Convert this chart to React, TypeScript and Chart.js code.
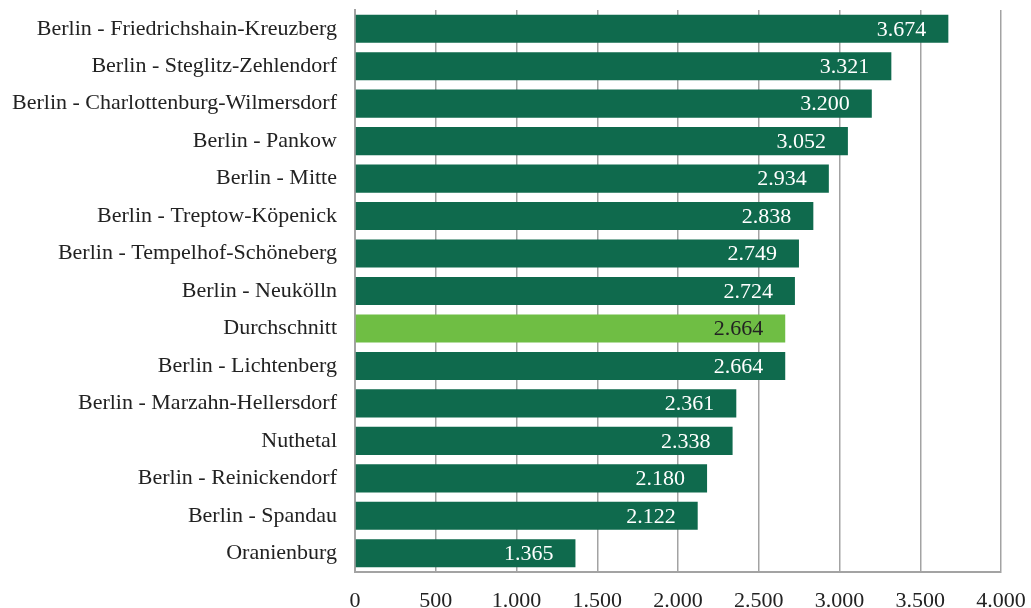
import React, { useEffect, useRef } from "react";
import { Chart, registerables } from "chart.js";

Chart.register(...registerables);

const categories = [
  "Berlin - Friedrichshain-Kreuzberg",
  "Berlin - Steglitz-Zehlendorf",
  "Berlin - Charlottenburg-Wilmersdorf",
  "Berlin - Pankow",
  "Berlin - Mitte",
  "Berlin - Treptow-Köpenick",
  "Berlin - Tempelhof-Schöneberg",
  "Berlin - Neukölln",
  "Durchschnitt",
  "Berlin - Lichtenberg",
  "Berlin - Marzahn-Hellersdorf",
  "Nuthetal",
  "Berlin - Reinickendorf",
  "Berlin - Spandau",
  "Oranienburg",
];

const values = [3674, 3321, 3200, 3052, 2934, 2838, 2749, 2724, 2664, 2664, 2361, 2338, 2180, 2122, 1365];

const highlightCategory = "Durchschnitt";

const xMin = 0;
const xMax = 4000;
const xStep = 500;

const DARK = "#0f6a4d";
const LIGHT = "#6fbe44";
const FONT = "'Liberation Serif', 'Times New Roman', serif";
const FONT_SIZE = 22;

function fmt(v: number): string {
  return String(Math.round(v)).replace(/\B(?=(\d{3})+(?!\d))/g, ".");
}

const labelPlugin = {
  id: "barLabels",
  afterDatasetsDraw(chart: any) {
    const ctx = chart.ctx;
    const meta = chart.getDatasetMeta(0);
    ctx.save();
    ctx.font = `${FONT_SIZE}px ${FONT}`;
    ctx.textAlign = "right";
    ctx.textBaseline = "middle";
    meta.data.forEach((el: any, i: number) => {
      const isHi = categories[i] === highlightCategory;
      ctx.fillStyle = isHi ? "#222222" : "#ffffff";
      ctx.fillText(fmt(values[i]), el.x - 22, el.y + 1);
    });
    ctx.restore();
  },
};

export default function App() {
  const ref = useRef<HTMLCanvasElement>(null);
  useEffect(() => {
    if (!ref.current) return;
    const chart = new Chart(ref.current, {
      type: "bar",
      data: {
        labels: categories,
        datasets: [
          {
            data: values,
            backgroundColor: categories.map((c) => (c === highlightCategory ? LIGHT : DARK)),
            barPercentage: 0.75,
            categoryPercentage: 1,
          },
        ],
      },
      options: {
        indexAxis: "y",
        animation: false,
        responsive: true,
        maintainAspectRatio: false,
        layout: { padding: { left: 0, right: 30, top: 10, bottom: 0 } },
        plugins: { legend: { display: false }, tooltip: { enabled: false } },
        scales: {
          x: {
            min: xMin,
            max: xMax,
            ticks: {
              stepSize: xStep,
              color: "#222222",
              font: { family: FONT, size: FONT_SIZE },
              padding: 16,
              maxRotation: 0,
              callback: (v: any) => fmt(Number(v)),
            },
            grid: { color: "#a3a3a3", lineWidth: 1.5, drawTicks: false },
            border: { display: true, color: "#a3a3a3", width: 2 },
            afterFit: (s: any) => {
              s.height = 36;
              s.paddingLeft = 0;
              s.paddingRight = 0;
            },
          },
          y: {
            ticks: {
              color: "#222222",
              font: { family: FONT, size: FONT_SIZE },
              padding: 18,
            },
            grid: { display: false, drawTicks: false },
            border: { display: true, color: "#a3a3a3", width: 2 },
            afterFit: (s: any) => {
              s.width = 355;
              s.paddingTop = 0;
              s.paddingBottom = 0;
            },
          },
        },
      },
      plugins: [labelPlugin],
    });
    return () => chart.destroy();
  }, []);
  return (
    <div style={{ position: "fixed", left: 0, top: 0, width: 1031, height: 608, background: "#fff" }}>
      <canvas ref={ref} />
    </div>
  );
}
